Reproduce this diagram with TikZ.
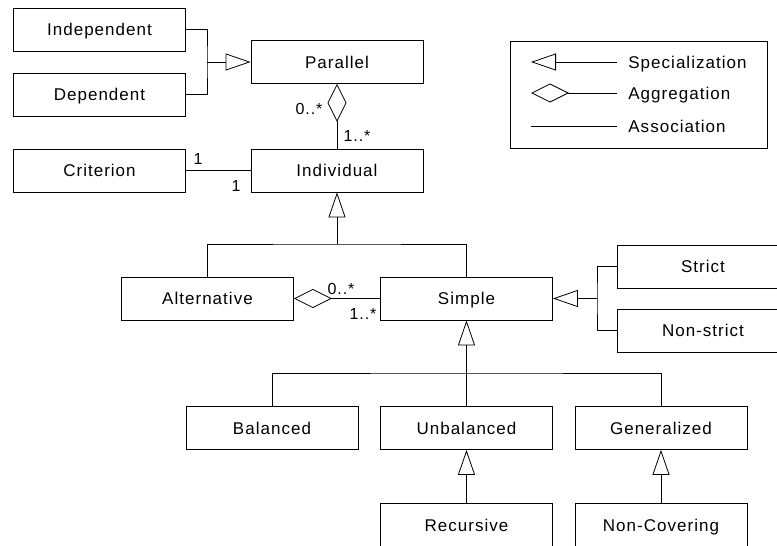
\documentclass[tikz,border=0pt]{standalone}
\usepackage{fontspec}
\setmainfont{Liberation Sans}[LetterSpace=6]
\usetikzlibrary{arrows.meta,positioning}

\begin{document}
\begin{tikzpicture}[x=1pt,y=-1pt,line width=0.8pt,
  cls/.style={draw,rectangle,minimum width=172pt,minimum height=43pt,inner sep=0pt,
    text height=12.5pt,text depth=0pt,font=\fontsize{17}{20}\selectfont},
  spec/.style={-{Triangle[open,length=25pt,width=17pt]}},
  agg/.style={-{Diamond[open,length=38pt,width=19pt]}},
  mult/.style={inner sep=0pt,font=\fontsize{16}{18}\selectfont},
  legtext/.style={anchor=west,inner sep=0pt,text height=12.5pt,text depth=0pt,font=\fontsize{17}{20}\selectfont}]
\clip (0,0) rectangle (777,546);

% Classes
\node[cls] (indep) at (99.5,29.5) {Independent};
\node[cls] (dep) at (99.5,94.5) {Dependent};
\node[cls] (parallel) at (337,62) {Parallel};
\node[cls] (crit) at (99.5,170.5) {Criterion};
\node[cls] (indiv) at (337,170.5) {Individual};
\node[cls] (altern) at (207.5,298.5) {Alternative};
\node[cls] (simple) at (466.5,298.5) {Simple};
\node[cls] (strict) at (703,266.5) {Strict};
\node[cls] (nonstrict) at (703,330.5) {Non-strict};
\node[cls] (balanced) at (272,428) {Balanced};
\node[cls] (unbal) at (466.5,428) {Unbalanced};
\node[cls] (general) at (661,428) {Generalized};
\node[cls] (recursive) at (466.5,525) {Recursive};
\node[cls] (noncov) at (661,525) {Non-Covering};

% Junctions
\coordinate (jpar) at (207,62);
\coordinate (jind) at (337,244);
\coordinate (jsim) at (597,298.5);
\coordinate (jbal) at (466.5,373);

% Parallel
\draw (indep.east) -| (jpar) |- (dep.east);
\draw[spec] (jpar) -- (parallel.west);
\draw[agg] (indiv.north) -- (parallel.south);
\node[mult] (m1) at (309,109) {0..*};
\node[mult] (m2) at (357,136) {1..*};

% Criterion
\draw (crit.east) -- (indiv.west);
\node[mult] (m3) at (198,158.5) {1};
\node[mult] (m4) at (236,186) {1};

% Individual
\draw (altern.north) |- (jind) -| (simple.north);
\draw[spec] (jind) -- (indiv.south);
\draw[agg] (simple.west) -- (altern.east);
\node[mult] (m5) at (341,289) {0..*};
\node[mult] (m6) at (363,314) {1..*};

% Simple
\draw (strict.west) -| (jsim) |- (nonstrict.west);
\draw[spec] (jsim) -- (simple.east);
\draw (balanced.north) |- (jbal) -| (general.north);
\draw[spec] (unbal.north) -- (simple.south);
\draw[spec] (recursive.north) -- (unbal.south);
\draw[spec] (noncov.north) -- (general.south);

% Legend
\node[draw,rectangle,minimum width=257pt,minimum height=107pt,inner sep=0pt] (legend) at (638.5,94.5) {};
\coordinate (l1) at (617,62);
\coordinate (l2) at (617,93);
\coordinate (l3) at (617,126);
\coordinate (e1) at (531,62);
\coordinate (e2) at (531,93);
\coordinate (e3) at (531,126);
\draw[spec] (l1) -- (e1);
\draw[agg] (l2) -- (e2);
\draw (l3) -- (e3);
\node[legtext] (t1) at (628,62) {Specialization};
\node[legtext] (t2) at (628,93) {Aggregation};
\node[legtext] (t3) at (628,126) {Association};
\end{tikzpicture}
\end{document}
